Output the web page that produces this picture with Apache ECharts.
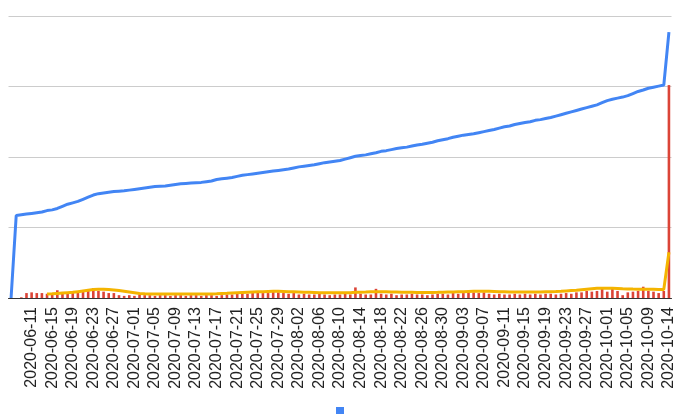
<!DOCTYPE html>
<html>
<head>
<meta charset="utf-8">
<script src="https://cdn.jsdelivr.net/npm/echarts@6/dist/echarts.min.js"></script>
<style>html,body{margin:0;padding:0;background:#fff;}#c{width:680px;height:414px;}</style>
</head>
<body>
<div id="c"></div>
<script>
// categories: 2020-06-07 .. 2020-10-12, then 2020-10-14
const dates = (function(){
  const out = [];
  const d = new Date(Date.UTC(2020,5,7));
  const end = Date.UTC(2020,9,12);
  while (d.getTime() <= end) { out.push(d.toISOString().slice(0,10)); d.setUTCDate(d.getUTCDate()+1); }
  out.push('2020-10-14');
  return out;
})();

const cumulative = [0,117,118,119,120,121,122,124,125,127,130,133,135,137,140,143,146,148,149,150,151,151.5,152,153,154,155,156,157,158,158.5,159,160,161,162,162.5,163,163.5,164,165,166,168,169,170,171,172.5,174,175,176,177,178,179,180,181,182,183,184.5,186,187,188,189,190.5,192,193,194,195,197,199,201,202,203,204.5,206,208,209,210.5,212,213,214,215.5,217,218,219.5,221,223,224.5,226,228,229.5,231,232,233,234.5,236,237.5,239,241,243,244,246,247.5,249,250,252,253,254.5,256,258,260,262,264,266,268,270,272,274,277,280,282,283.5,285,287,290,293,295,297.5,299,300.5,302,377];

const daily = [0,0,1,7,8,7,7,6,6,11,7,7,7,8,10,11,14,10,9,7,7,4,3,4,3,5,4,4,3,4,4,3,4,4,3,4,4,3,4,4,3,4,5,5,6,7,6,7,8,7,7,11,8,7,6,7,5,6,5,5,6,5,4,5,5,6,5,15,6,5,5,13,6,5,6,4,5,5,6,5,5,4,5,6,6,5,7,6,7,8,8,7,8,6,5,6,5,5,6,5,6,5,6,5,6,6,5,6,7,6,8,8,10,9,10,14,9,14,10,4,8,9,10,16,10,9,7,10,302];

const average = [null,null,null,null,null,null,null,5.7,6,6.5,7,7.5,8,9,10,11,12,12.5,12.5,12,11.5,10.5,9.5,8.5,7.5,6.5,6,5.8,5.6,5.5,5.5,5.5,5.5,5.5,5.5,5.6,5.6,5.6,5.7,5.8,6,6.3,6.6,7,7.4,7.8,8.2,8.5,8.8,9,9.2,9.4,9.4,9.2,9,8.8,8.5,8.2,8,7.8,7.6,7.5,7.4,7.4,7.4,7.5,7.6,8,8.3,8.5,8.8,9,9,8.8,8.6,8.4,8.2,8,8,7.8,7.8,7.8,7.9,8,8.2,8.4,8.6,8.8,9,9.2,9.4,9.5,9.5,9.4,9.2,9,8.8,8.6,8.5,8.4,8.4,8.4,8.5,8.6,8.8,9,9.2,9.5,10,10.5,11,11.8,12.5,13.2,13.8,14,14,13.8,13.5,13,12.8,12.6,12.5,12.5,12.4,12.3,12.2,12.2,65];

const chart = echarts.init(document.getElementById('c'), null, {renderer:'canvas'});
chart.setOption({
  animation: false,
  textStyle: {fontFamily: '"Liberation Sans", Arial, sans-serif'},
  grid: {left: 8.5, right: 8.5, top: 16, bottom: 116, containLabel: false},
  legend: {
    data: [{name: 'cumulative'}],
    left: 'center', top: 407,
    icon: 'rect', itemWidth: 8, itemHeight: 9,
    formatter: function(){ return ''; },
    itemGap: 0, padding: 0
  },
  xAxis: {
    type: 'category',
    data: dates,
    boundaryGap: true,
    axisLine: {show: true, lineStyle: {color: '#333', width: 1}},
    axisTick: {show: false},
    axisLabel: {
      rotate: 90, margin: 9, fontSize: 16, color: '#222',
      fontFamily: '"Liberation Sans", Arial, sans-serif',
      interval: function(i){ return i > 0 && i % 4 === 0; }
    }
  },
  yAxis: {
    type: 'value', min: 0, max: 400, interval: 100,
    axisLabel: {show: false},
    axisLine: {show: false}, axisTick: {show: false},
    splitLine: {lineStyle: {color: '#cccccc', width: 1}}
  },
  series: [
    {name: 'daily', type: 'bar', data: daily, barWidth: 2.6, itemStyle: {color: '#db4437'}, z: 2},
    {name: 'average', type: 'line', data: average, showSymbol: false, lineStyle: {color: '#f4b400', width: 3}, itemStyle: {color: '#f4b400'}, z: 3},
    {name: 'cumulative', type: 'line', data: cumulative, showSymbol: false, lineStyle: {color: '#4285f4', width: 3}, itemStyle: {color: '#4285f4'}, z: 4}
  ]
});
</script>
</body>
</html>
